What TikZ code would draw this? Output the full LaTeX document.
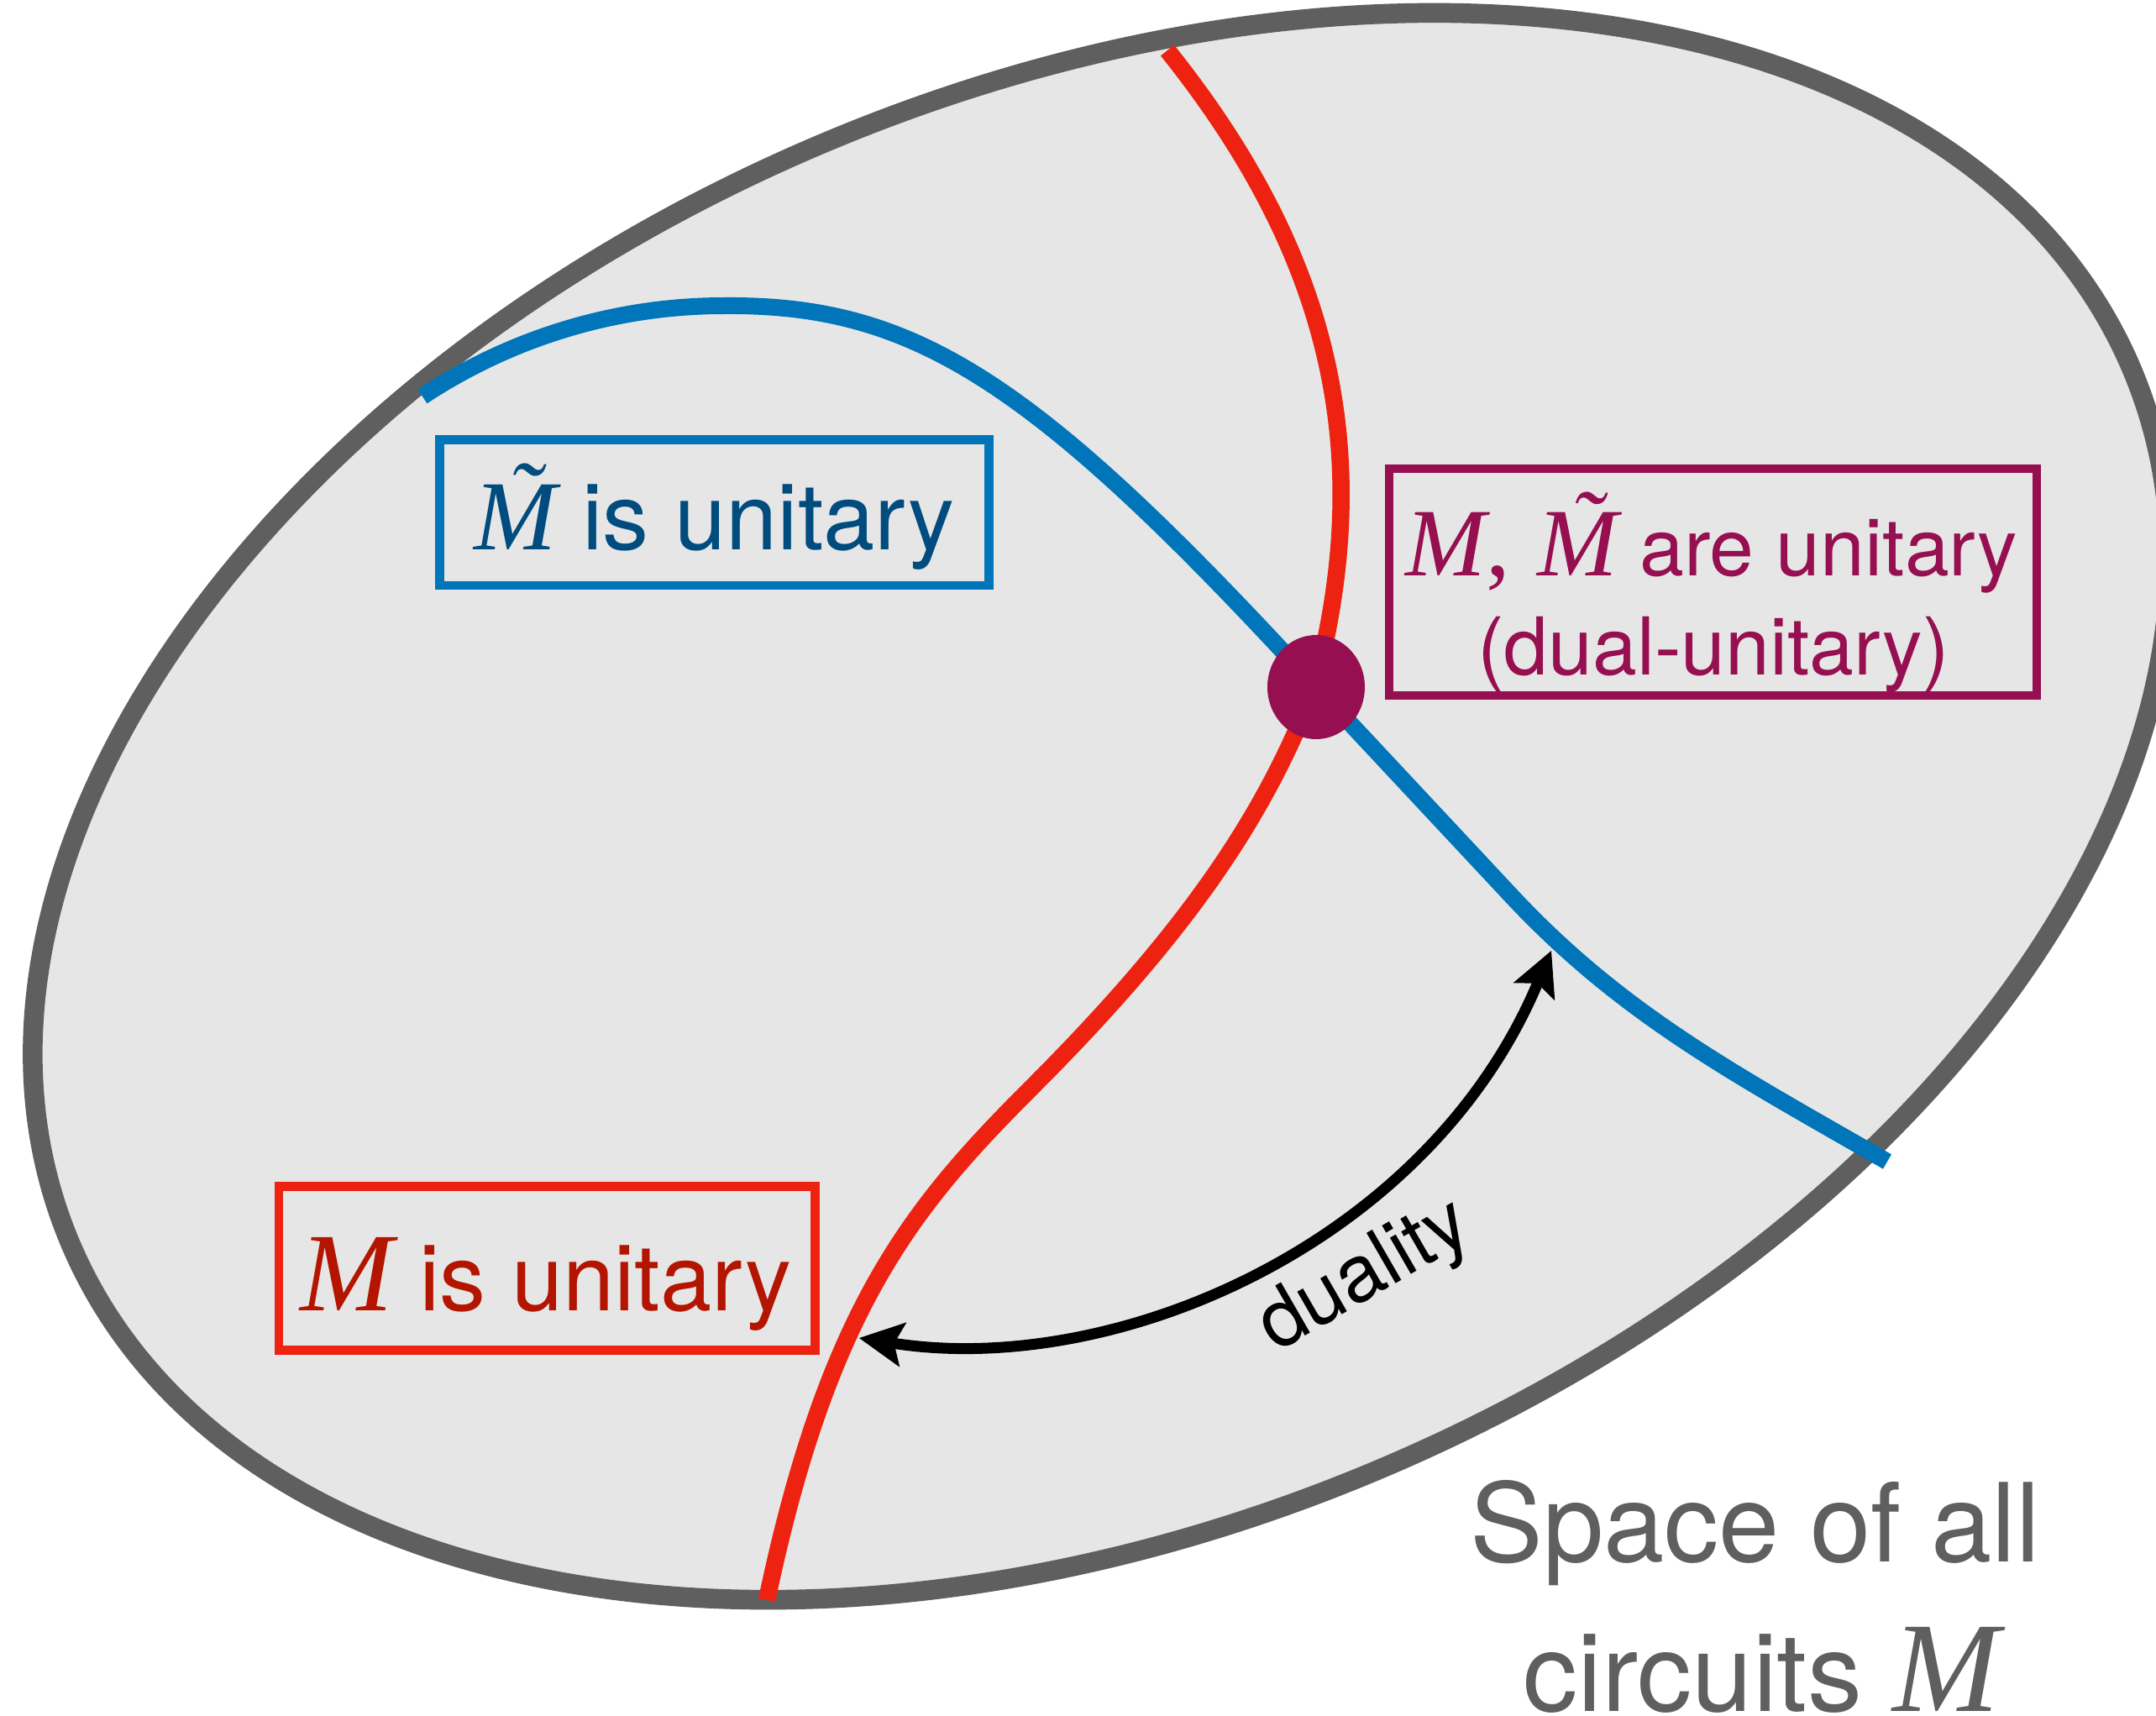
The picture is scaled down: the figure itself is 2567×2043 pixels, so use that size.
\documentclass[tikz,border=0pt]{standalone}
\usepackage{fontspec}
\setmainfont{TeX Gyre Heros}
\newfontfamily\mfont{Liberation Serif}
\usetikzlibrary{arrows.meta,shapes.geometric}

\definecolor{shade}{HTML}{E6E6E6}
\definecolor{rim}{HTML}{5F5F5F}
\definecolor{bline}{HTML}{0075B9}
\definecolor{btext}{HTML}{004C7F}
\definecolor{rline}{HTML}{EE2210}
\definecolor{rtext}{HTML}{B31500}
\definecolor{pcol}{HTML}{960F50}

% italic M, and italic M with a tilde on top
\newcommand\Mi{{\mfont\itshape M}}
\newcommand\Mtil{{\mfont\itshape\ooalign{M\cr\hidewidth\kern0.18em\raisebox{0.19em}{\char"02DC}\hidewidth\cr}}}

\begin{document}
\begin{tikzpicture}[x=0.1pt,y=-0.1pt,
  frame/.style={draw, rectangle, line width=1.05pt, inner sep=0pt},
  lbl/.style={anchor=base, inner sep=0pt},
  >={Stealth[length=5.3pt,width=5.4pt,inset=1.1pt,line width=0pt]},
]
\fill[white] (0,0) rectangle (2567,2043);
\useasboundingbox (0,0) rectangle (2567,2043);

% the space of all circuits
\draw[rim, fill=shade, line width=2.35pt, rotate around={23:(1311,960)}]
  (1311,960) ellipse [x radius=1333, y radius=856];

% M unitary
\draw[rline, line width=2.05pt]
  (1390,60) .. controls (1577,294) and (1642,528) .. (1565,818)
            .. controls (1511,958) and (1428,1095) .. (1230,1293)
            .. controls (1089,1434) and (987,1553) .. (913,1905);

% M-tilde unitary: round top, a straight run, then a flatter tail
\draw[bline, line width=2pt]
  (503,472) arc[start angle=-123.5, end angle=-90, radius=650]
            .. controls (1080,362) and (1220,446) .. (1527,775)
            -- (1798,1065)
            .. controls (1934,1211) and (2074,1283) .. (2247,1383);

% dual-unitary point
\node[ellipse, fill=pcol, minimum width=11.6pt, minimum height=12.4pt, inner sep=0pt] (du) at (1567,818) {};

% duality arrow
\coordinate (dl) at (1023,1593);
\coordinate (dr) at (1847,1132);
\draw[line width=1.3pt, <->] (dl) .. controls (1330,1640) and (1700,1480) .. (dr);
\node[lbl, rotate=30, font=\fontsize{9.5}{11}\selectfont] (dualtxt) at (1638,1542) {duality};

% labels
\node[frame, bline, minimum width=65.45pt, minimum height=17.35pt] (bbox) at (850.5,610) {};
\node[lbl, btext, font=\fontsize{11}{13}\selectfont] (btxt) at (850.5,654)
  {{\fontsize{11.8}{13}\selectfont\Mtil} is unitary};

\node[frame, pcol, minimum width=77.1pt, minimum height=27pt] (pbox) at (2039.5,693) {};
\node[lbl, pcol, font=\fontsize{9.5}{11}\selectfont] (ptop) at (2038,685)
  {{\fontsize{11.5}{12}\selectfont\Mi{\mfont,} \Mtil} are unitary};
\node[lbl, pcol, font=\fontsize{9.5}{11}\selectfont] (pbot) at (2040,803) {(dual-unitary)};

\node[frame, rline, minimum width=63.85pt, minimum height=19.5pt] (rbox) at (651.25,1510) {};
\node[lbl, rtext, font=\fontsize{11}{13}\selectfont] (rtxt) at (650,1560)
  {{\fontsize{13.3}{14}\selectfont\Mi} is unitary};

\node[lbl, rim, font=\fontsize{13}{15}\selectfont] (sp1) at (2090,1859) {Space of all};
\node[lbl, rim, font=\fontsize{13}{15}\selectfont] (sp2) at (2097,2037)
  {circuits {\fontsize{15.3}{16}\selectfont\Mi}};
\end{tikzpicture}
\end{document}
